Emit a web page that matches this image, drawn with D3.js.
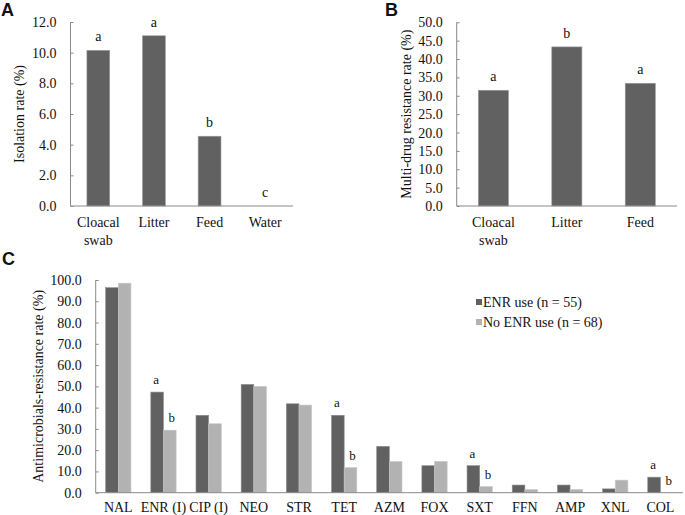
<!DOCTYPE html>
<html><head><meta charset="utf-8">
<script src="https://cdn.jsdelivr.net/npm/d3@7"></script>
<style>
body{margin:0;background:#fff;}
svg text{font-family:"Liberation Serif","Times New Roman",serif;fill:#111;}
.plabel{font-family:"Liberation Sans",Arial,sans-serif !important;font-weight:bold;font-size:18px;}
</style></head>
<body>
<svg id="c" width="685" height="515"></svg>
<script>
// Panel A
const catsA = ["Cloacal swab", "Litter", "Feed", "Water"];
const valsA = [10.15, 11.1, 4.55, 0];
const sigA = ["a", "a", "b", "c"];
const ticksA = [0, 2, 4, 6, 8, 10, 12];
// Panel B
const catsB = ["Cloacal swab", "Litter", "Feed"];
const valsB = [31.5, 43.3, 33.4];
const sigB = ["a", "b", "a"];
const ticksB = [0, 5, 10, 15, 20, 25, 30, 35, 40, 45, 50];
// Panel C
const catsC = ["NAL", "ENR (I)", "CIP (I)", "NEO", "STR", "TET", "AZM", "FOX", "SXT", "FFN", "AMP", "XNL", "COL"];
const seriesC = ["ENR use (n = 55)", "No ENR use (n = 68)"];
const enrUse = [96.4, 47.3, 36.4, 50.9, 41.8, 36.4, 21.8, 12.7, 12.7, 3.6, 3.6, 1.8, 7.3];
const noEnrUse = [98.5, 29.4, 32.4, 50.0, 41.2, 11.8, 14.7, 14.7, 2.9, 1.5, 1.5, 5.9, 0];
const sigEnr = ["", "a", "", "", "", "a", "", "", "a", "", "", "", "a"];
const sigNoEnr = ["", "b", "", "", "", "b", "", "", "b", "", "", "", "b"];
const ticksC = [0, 10, 20, 30, 40, 50, 60, 70, 80, 90, 100];

const DARK = "#616161", LIGHT = "#b2b2b2", AXIS = "#8a8a8a";
const svg = d3.select("#c");
const fmt = d3.format(".1f");

function yAxis(g, y, ticks) {
  g.call(d3.axisLeft(y).tickValues(ticks).tickFormat(fmt).tickSize(-3).tickPadding(14));
  g.select(".domain").attr("stroke", AXIS).attr("d", `M0,${y(ticks[ticks.length-1])}V${y(0)}`);
  g.selectAll(".tick line").attr("stroke", AXIS);
  g.selectAll(".tick text").attr("font-size", 14).attr("font-family", "Liberation Serif").attr("fill", "#111");
}

function simplePanel(cats, vals, sig, ticks, x0, x1, yTop, yBot, ylab, ylabX) {
  const x = d3.scaleBand().domain(cats).range([x0, x1]).paddingInner(0.59).paddingOuter(0.295);
  const y = d3.scaleLinear().domain([0, ticks[ticks.length-1]]).range([yBot, yTop]);
  svg.selectAll(null).data(cats).enter().append("rect")
    .attr("x", d => x(d)).attr("width", x.bandwidth())
    .attr("y", (d,i) => y(vals[i])).attr("height", (d,i) => y(0) - y(vals[i]))
    .attr("fill", DARK).attr("stroke", "#9a9a9a").attr("stroke-width", 0.6);
  svg.selectAll(null).data(cats).enter().append("text")
    .attr("x", d => x(d) + x.bandwidth()/2).attr("y", (d,i) => y(vals[i]) - 9)
    .attr("text-anchor", "middle").attr("font-size", 14).text((d,i) => sig[i]);
  const ga = svg.append("g").attr("transform", `translate(${x0},0)`);
  yAxis(ga, y, ticks);
  svg.append("line").attr("x1", x0).attr("x2", x1).attr("y1", y(0)).attr("y2", y(0)).attr("stroke", AXIS);
  cats.forEach(c => {
    const parts = c.split(" ");
    const t = svg.append("text").attr("text-anchor", "middle").attr("font-size", 14)
      .attr("x", x(c) + x.bandwidth()/2).attr("y", yBot + 21);
    parts.forEach((p, i) => t.append("tspan").attr("x", x(c) + x.bandwidth()/2).attr("dy", i ? 18 : 0).text(p));
  });
  svg.append("text").attr("transform", `translate(${ylabX},${(yTop+yBot)/2}) rotate(-90)`)
    .attr("text-anchor", "middle").attr("font-size", 14).text(ylab);
}

simplePanel(catsA, valsA, sigA, ticksA, 70.5, 293, 22, 206, "Isolation rate (%)", 24);
simplePanel(catsB, valsB, sigB, ticksB, 456.7, 677, 22.3, 206, "Multi-drug resistance rate (%)", 411);

// Panel C
{
  const x0 = 95.7, x1 = 683, yTop = 280, yBot = 492.7;
  const x = d3.scaleBand().domain(catsC).range([x0, x1]).paddingInner(0.44).paddingOuter(0.22);
  const xs = d3.scaleBand().domain(seriesC).range([0, x.bandwidth()]);
  const y = d3.scaleLinear().domain([0, 100]).range([yBot, yTop]);
  const data = [enrUse, noEnrUse], cols = [DARK, LIGHT], sigs = [sigEnr, sigNoEnr];
  seriesC.forEach((s, si) => {
    svg.selectAll(null).data(catsC).enter().append("rect")
      .attr("x", d => x(d) + xs(s)).attr("width", xs.bandwidth())
      .attr("y", (d,i) => y(data[si][i])).attr("height", (d,i) => y(0) - y(data[si][i]))
      .attr("fill", cols[si]).attr("stroke", si ? "#c8c8c8" : "#8f8f8f").attr("stroke-width", 0.6);
    svg.selectAll(null).data(catsC).enter().append("text")
      .attr("x", d => x(d) + xs(s) + xs.bandwidth()/2 + (si ? 2 : -1))
      .attr("y", (d,i) => y(data[si][i]) - 8)
      .attr("text-anchor", "middle").attr("font-size", 13).text((d,i) => sigs[si][i]);
  });
  const ga = svg.append("g").attr("transform", `translate(${x0},0)`);
  yAxis(ga, y, ticksC);
  svg.append("line").attr("x1", x0).attr("x2", x1).attr("y1", yBot).attr("y2", yBot).attr("stroke", AXIS);
  svg.selectAll(null).data(catsC).enter().append("text")
    .attr("x", d => x(d) + x.bandwidth()/2).attr("y", yBot + 19)
    .attr("text-anchor", "middle").attr("font-size", 14).text(d => d);
  svg.append("text").attr("transform", `translate(${43},${(yTop+yBot)/2}) rotate(-90)`)
    .attr("text-anchor", "middle").attr("font-size", 14).text("Antimicrobials-resistance rate (%)");
  // legend
  seriesC.forEach((s, i) => {
    const ly = 302 + i * 20;
    svg.append("rect").attr("x", 476).attr("y", ly - 3).attr("width", 6).attr("height", 6).attr("fill", cols[i]);
    svg.append("text").attr("x", 483).attr("y", ly + 5).attr("font-size", 14).text(s);
  });
}

svg.append("text").attr("class", "plabel").attr("x", 1).attr("y", 16).text("A");
svg.append("text").attr("class", "plabel").attr("x", 385).attr("y", 16).text("B");
svg.append("text").attr("class", "plabel").attr("x", 2).attr("y", 265).text("C");
</script>
</body></html>
